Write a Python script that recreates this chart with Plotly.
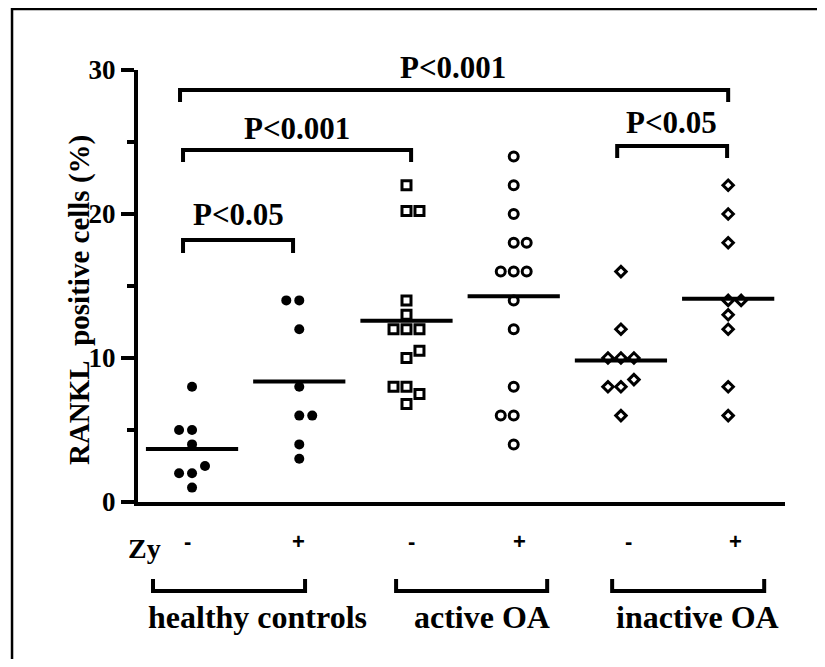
import plotly.graph_objects as go

# ---------------- data ----------------
columns = ["healthy -", "healthy +", "active -", "active +", "inactive -", "inactive +"]
healthy_minus = [8, 5, 5, 4, 2.5, 2, 2, 1]
healthy_plus = [14, 14, 12, 8, 6, 6, 4, 3]
active_minus = [22, 20.2, 20.2, 14, 13, 12, 12, 12, 10.5, 10, 8, 8, 7.5, 6.8]
active_plus = [24, 22, 20, 18, 18, 16, 16, 16, 14, 12, 8, 6, 6, 4]
inactive_minus = [16, 12, 10, 10, 10, 8.5, 8, 8, 6]
inactive_plus = [22, 20, 18, 14, 14, 13, 12, 8, 6]

zy_labels = ["-", "+", "-", "+", "-", "+"]
group_labels = ["healthy controls", "active OA", "inactive OA"]
p_labels = ["P<0.05", "P<0.001", "P<0.001", "P<0.05"]
y_ticks = [0, 10, 20, 30]
y_title = "RANKL\u00a0 positive cells (%)"

# ---------------- layout helpers (positions/styles) ----------------
# side-by-side dodge slots for coinciding dots (beeswarm layout)
dodge = [
    [0, -1, 0, 0, 1, -1, 0, 0],
    [-1, 0, 0, 0, 0, 1, 0, 0],
    [0, 0, 1, 0, 0, -1, 0, 1, 1, 0, -1, 0, 1, 0],
    [0, 0, 0, 0, 1, -1, 0, 1, 0, 0, 0, -1, 0, 0],
    [0, 0, -1, 0, 1, 1, -1, 0, 0],
    [0, 0, 0, 0, 1, 0, 0, 0, 0],
]
DODGE_STEP = 0.121
series = [healthy_minus, healthy_plus, active_minus, active_plus, inactive_minus, inactive_plus]
symbols = ["circle", "circle", "square-open", "circle-open", "diamond-open", "diamond-open"]
sizes = [10, 10, 9, 9, 8, 8]
MEAN_HALF = 0.43
XR = [-0.504, 5.53]
YR = [0, 30]

SERIF = "Liberation Serif"
SANS = "Liberation Sans"

fig = go.Figure()

for i, vals in enumerate(series):
    mean = sum(vals) / len(vals)
    fig.add_trace(go.Scatter(
        x=[i - MEAN_HALF, i + MEAN_HALF], y=[mean, mean], mode="lines",
        line=dict(color="black", width=4), showlegend=False, hoverinfo="skip"))
    xs = [i + d * DODGE_STEP for d in dodge[i]]
    fig.add_trace(go.Scatter(
        x=xs, y=vals, mode="markers", name=columns[i], showlegend=False,
        marker=dict(symbol=symbols[i], size=sizes[i], color="black",
                    line=dict(color="black", width=3 if "open" in symbols[i] else 0)),
        cliponaxis=False))


def px(xd):
    return (xd - XR[0]) / (XR[1] - XR[0])


def py(yd):
    return (yd - YR[0]) / (YR[1] - YR[0])


# significance brackets inside plot (data coords)
brackets = [  # x0, x1, y, ytick, label x, label y
    (-0.084, 0.942, 18.19, 17.29, 0.43, 20.0),
    (-0.084, 2.043, 24.44, 23.61, 0.98, 25.97),
    (-0.112, 5.0, 28.61, 27.78, 2.43, 30.14),
    (3.965, 4.99, 24.72, 23.89, 4.47, 26.32),
]
shapes = []
annotations = []
for (x0, x1, y, yt, lx, ly), lab in zip(brackets, p_labels):
    shapes.append(dict(type="path", xref="x", yref="y",
                       path=f"M {x0},{yt} L {x0},{y} L {x1},{y} L {x1},{yt}",
                       line=dict(color="black", width=4)))
    annotations.append(dict(x=px(lx), y=py(ly), xref="paper", yref="paper", text=lab,
                            showarrow=False, xanchor="center", yanchor="middle",
                            font=dict(family=SERIF, size=31, color="black", weight="bold")))

# Zy signs under axis
sign_offsets = [-0.04, -0.01, 0.05, 0.05, 0.07, 0.07]
for i, s in enumerate(zy_labels):
    annotations.append(dict(x=px(i + sign_offsets[i]), y=-0.0903, xref="paper", yref="paper",
                            text=s, showarrow=False, xanchor="center", yanchor="middle",
                            font=dict(family=SANS, size=22, color="black", weight="bold")))
annotations.append(dict(x=px(-0.448), y=-0.108, xref="paper", yref="paper", text="Zy",
                        showarrow=False, xanchor="center", yanchor="middle",
                        font=dict(family=SERIF, size=28, color="black", weight="bold")))

# group brackets below axis
gb = [(-0.364, 1.054, 0.606), (1.903, 3.312, 2.705), (3.918, 5.336, 4.71)]
for (x0, x1, lx), lab in zip(gb, group_labels):
    shapes.append(dict(type="path", xref="paper", yref="paper",
                       path=f"M {px(x0)},-0.178 L {px(x0)},-0.206 L {px(x1)},-0.206 L {px(x1)},-0.178",
                       line=dict(color="black", width=4)))
    annotations.append(dict(x=px(lx), y=-0.267, xref="paper", yref="paper", text=lab,
                            showarrow=False, xanchor="center", yanchor="middle",
                            font=dict(family=SERIF, size=32, color="black", weight="bold")))

# y title
annotations.append(dict(x=-0.0896, y=0.4676, xref="paper", yref="paper", text=y_title,
                        showarrow=False, textangle=-90, xanchor="center", yanchor="middle",
                        font=dict(family=SERIF, size=29, color="black", weight="bold")))

# outer frame (left and top edges only are visible in the reference)
shapes.append(dict(type="path", xref="paper", yref="paper",
                   path="M -0.1947,-0.6 L -0.1947,1.141 L 1.4,1.141",
                   line=dict(color="black", width=2.5), layer="below"))

fig.update_layout(
    width=809, height=651, autosize=False,
    margin=dict(l=130, r=32, t=62, b=157),
    paper_bgcolor="white", plot_bgcolor="white",
    shapes=shapes, annotations=annotations, showlegend=False,
    xaxis=dict(range=XR, showgrid=False, zeroline=False, showline=True, linecolor="black",
               linewidth=4, showticklabels=False, ticks=""),
    yaxis=dict(range=YR, showgrid=False, zeroline=False, showline=True, linecolor="black",
               linewidth=4, tickvals=y_ticks, ticks="outside", ticklen=13, tickwidth=4,
               tickcolor="black",
               tickfont=dict(family=SERIF, size=27, color="black", weight="bold"),
               minor=dict(dtick=5, tick0=0, ticks="outside", ticklen=7, tickwidth=4,
                          tickcolor="black", showgrid=False)),
)

fig.write_html("out.html")
